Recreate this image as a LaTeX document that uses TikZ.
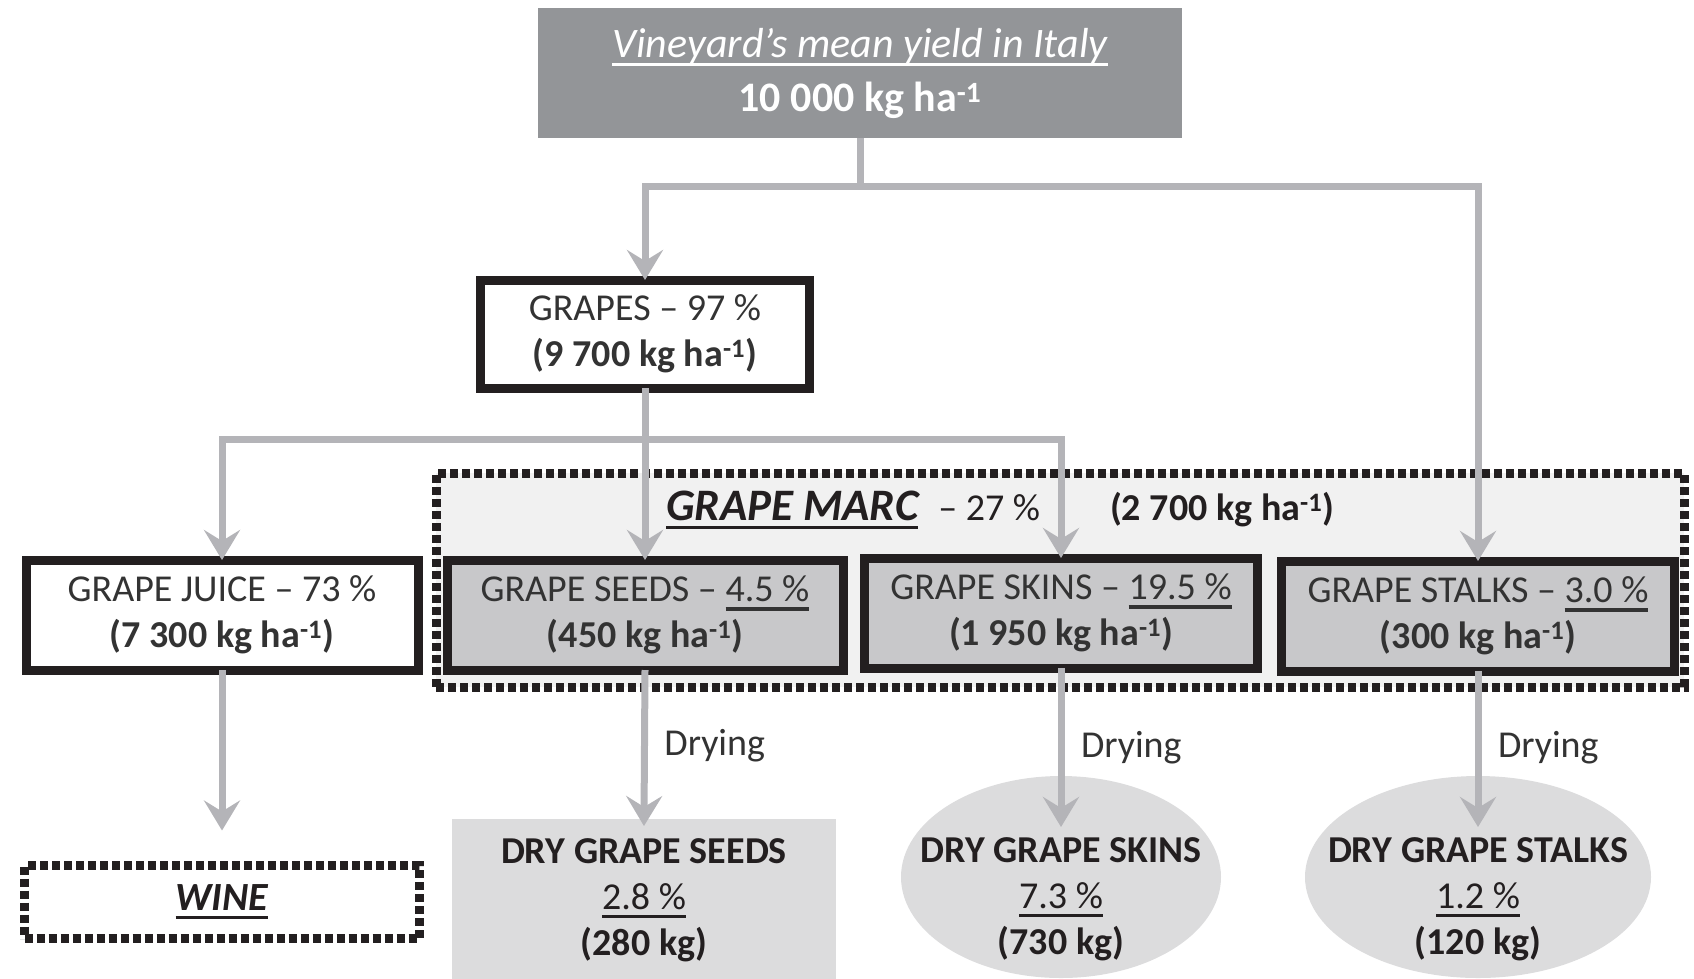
\documentclass[tikz,border=0pt]{standalone}
\usepackage{fontspec}
\setmainfont{Carlito}
\usepackage{tikz}
\usetikzlibrary{arrows.meta}
\usetikzlibrary{shapes.geometric}
\usetikzlibrary{positioning}
\definecolor{topgray}{RGB}{147,149,152}
\definecolor{boxgray}{RGB}{200,200,202}
\definecolor{marcgray}{RGB}{241,241,241}
\definecolor{drygray}{RGB}{220,220,221}
\definecolor{flowgray}{RGB}{180,180,184}
\definecolor{inkdark}{RGB}{35,31,32}
\newsavebox{\ulbox}
\newcommand{\ulined}[1]{\sbox{\ulbox}{#1}\rlap{\rule[-9pt]{\wd\ulbox}{3.5pt}}\usebox{\ulbox}}

\begin{document}
\begin{tikzpicture}[x=1pt, y=-1pt, >={Stealth[length=30pt,width=36pt,inset=11pt]}]
  \tikzset{every node/.style={font=\fontsize{38}{46}\selectfont, text=black!80, align=center, inner sep=0pt, outer sep=0pt},
    flow/.style={draw=flowgray, line width=7pt},
    box/.style={draw=inkdark, line width=9pt, minimum height=110pt},
    dashbox/.style={draw=inkdark, line width=9pt, dash pattern=on 8pt off 4pt},
    dry/.style={fill=drygray, text=inkdark}}
  \useasboundingbox (0,0) rectangle (1694,978);

  % grape marc area behind the three residues
  \node[dashbox, fill=marcgray, minimum width=1248pt, minimum height=214pt] (marc) at (1060,580) {};
  \node[anchor=west, text=inkdark] (marclabel) at (666,510) {\ulined{\fontsize{45}{46}\selectfont\bfseries\itshape GRAPE MARC}\hspace{20pt}-- 27 \%\hspace{70pt}\textbf{(2 700 kg ha\textsuperscript{-1})}};

  \node[fill=topgray, text=white, minimum width=644pt, minimum height=130pt, font=\fontsize{42}{54}\selectfont] (top) at (860,73)
    {\ulined{\itshape Vineyard’s mean yield in Italy}\\ \textbf{10 000 kg ha\textsuperscript{-1}}};
  \node[box, fill=white, minimum width=329pt, minimum height=108pt] (grapes) at (645,334) {GRAPES -- 97 \%\\ \textbf{(9 700 kg ha\textsuperscript{-1})}};

  \node[box, fill=white, minimum width=392pt] (juice) at (222,615) {GRAPE JUICE -- 73 \%\\ \textbf{(7 300 kg ha\textsuperscript{-1})}};
  \node[box, fill=boxgray, minimum width=396pt] (seeds) at (645,615) {GRAPE SEEDS -- \ulined{4.5 \%}\\ \textbf{(450 kg ha\textsuperscript{-1})}};
  \node[box, fill=boxgray, minimum width=393pt] (skins) at (1061,613) {GRAPE SKINS -- \ulined{19.5 \%}\\ \textbf{(1 950 kg ha\textsuperscript{-1})}};
  \node[box, fill=boxgray, minimum width=393pt] (stalks) at (1478,616) {GRAPE STALKS -- \ulined{3.0 \%}\\ \textbf{(300 kg ha\textsuperscript{-1})}};

  \node[dashbox, minimum width=395pt, minimum height=73pt, font=\fontsize{40}{46}\selectfont, text=inkdark] (wine) at (222,902) {\ulined{\bfseries\itshape WINE}};
  \node[dry, minimum width=384pt, minimum height=162pt] (dryseeds) at (644,900) {\textbf{DRY GRAPE SEEDS}\\ \ulined{2.8 \%}\\ \textbf{(280 kg)}};
  \node[dry, ellipse, minimum width=320pt, minimum height=202pt] (dryskins) at (1061,877) {};
  \node[text=inkdark] (dryskinstext) at (1061,899) {\textbf{DRY GRAPE SKINS}\\ \ulined{7.3 \%}\\ \textbf{(730 kg)}};
  \node[dry, ellipse, minimum width=346pt, minimum height=202pt] (drystalks) at (1478,877) {};
  \node[text=inkdark] (drystalkstext) at (1478,899) {\textbf{DRY GRAPE STALKS}\\ \ulined{1.2 \%}\\ \textbf{(120 kg)}};

  \coordinate (split1) at (860,186);
  \coordinate (split2) at (645,439);
  \draw[flow] (top.south) -- (split1);
  \draw[flow,->] (split1) -| (grapes.north);
  \draw[flow,->] (split1) -| (stalks.north);
  \draw[flow,->] (grapes.south) -- (seeds.north);
  \draw[flow,->] (split2) -| (juice.north);
  \draw[flow,->] (split2) -| (skins.north);
  \draw[flow,->,shorten >=35pt] (juice.south) -- (wine.north);
  \draw[flow,->,shorten >=-7pt] (seeds.south) -- node[pos=0.51, right=20pt] {Drying} (dryseeds.north);
  \draw[flow,->,shorten >=-51pt] (skins.south) -- node[pos=0.74, right=20pt] {Drying} (dryskins.north);
  \draw[flow,->,shorten >=-51pt] (stalks.south) -- node[pos=0.73, right=20pt] {Drying} (drystalks.north);
\end{tikzpicture}
\end{document}
